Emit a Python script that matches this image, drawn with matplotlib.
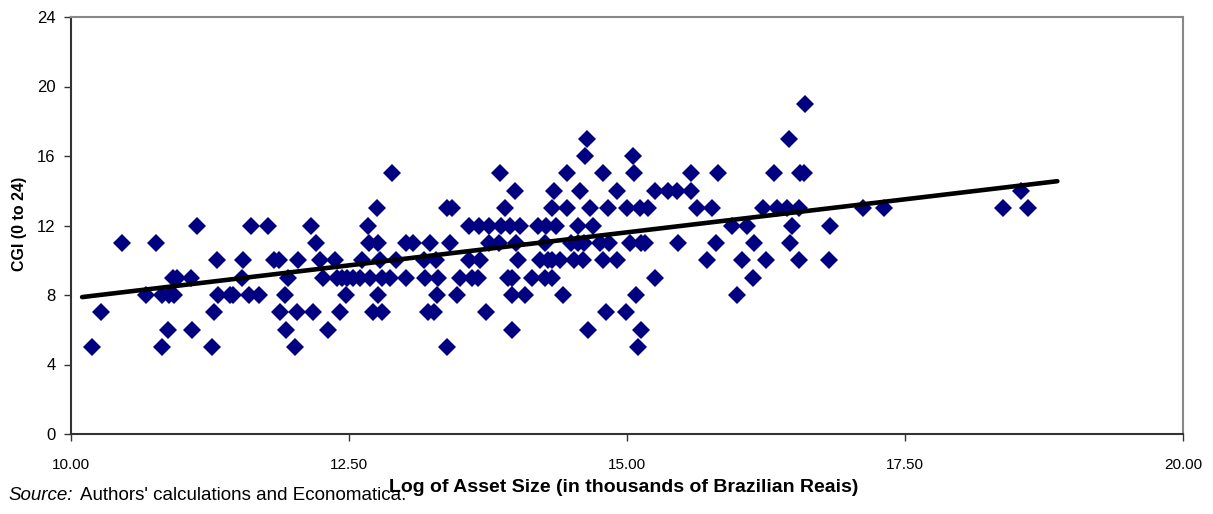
import matplotlib
matplotlib.use("Agg")
import matplotlib.pyplot as plt

# CGI score levels and the log asset sizes for each level
cgi_levels = [19, 17, 16, 15, 14, 13, 12, 11, 10, 9, 8, 7, 6, 5]

size_19 = [16.60]
size_17 = [14.64, 16.46]
size_16 = [14.62, 15.05]
size_15 = [12.89, 13.86, 14.46, 14.78, 15.06, 15.58, 15.82, 16.32, 16.56, 16.59]
size_14 = [13.99, 14.34, 14.58, 14.91, 15.25, 15.37, 15.45, 15.58, 18.54]
size_13 = [12.75, 13.38, 13.43, 13.90, 14.33, 14.46, 14.67, 14.83, 15.00, 15.12,
           15.19, 15.63, 15.76, 16.22, 16.35, 16.44, 16.55, 17.12, 17.31, 18.38, 18.61]
size_12 = [11.13, 11.62, 11.77, 12.16, 12.67, 13.58, 13.67, 13.76, 13.87, 13.95,
           14.04, 14.20, 14.27, 14.36, 14.56, 14.69, 15.94, 16.08, 16.48, 16.83]
size_11 = [10.46, 10.76, 12.20, 12.68, 12.76, 13.01, 13.08, 13.23, 13.41, 13.76,
           13.85, 14.00, 14.26, 14.50, 14.56, 14.61, 14.76, 14.84, 15.03, 15.13,
           15.16, 15.46, 15.80, 16.14, 16.47]
size_10 = [11.31, 11.55, 11.83, 11.87, 12.04, 12.24, 12.37, 12.62, 12.78, 12.92,
           13.17, 13.28, 13.58, 13.68, 14.02, 14.22, 14.29, 14.33, 14.40, 14.52,
           14.60, 14.78, 14.91, 15.72, 16.03, 16.25, 16.55, 16.82]
size_9 = [10.92, 10.95, 11.08, 11.54, 11.95, 12.27, 12.39, 12.44, 12.48, 12.54,
          12.60, 12.69, 12.80, 12.87, 13.01, 13.18, 13.30, 13.50, 13.61, 13.66,
          13.93, 13.97, 14.15, 14.26, 14.33, 15.25, 16.13]
size_8 = [10.67, 10.82, 10.88, 10.93, 11.32, 11.43, 11.46, 11.60, 11.69, 11.92,
          12.47, 12.76, 13.29, 13.47, 13.97, 14.08, 14.42, 15.08, 15.99]
size_7 = [10.27, 11.29, 11.88, 12.03, 12.18, 12.42, 12.72, 12.80, 13.21, 13.26,
          13.73, 14.81, 14.99]
size_6 = [10.87, 11.09, 11.93, 12.31, 13.97, 14.65, 15.13]
size_5 = [10.19, 10.82, 11.27, 12.01, 13.38, 15.10]

sizes_by_level = [size_19, size_17, size_16, size_15, size_14, size_13, size_12,
                  size_11, size_10, size_9, size_8, size_7, size_6, size_5]

# linear trend line, end points
trend_x = [10.10, 18.87]
trend_y = [7.88, 14.55]

x_ticks = [10.0, 12.5, 15.0, 17.5, 20.0]
y_ticks = [0, 4, 8, 12, 16, 20, 24]

xs = []
ys = []
for level, sizes in zip(cgi_levels, sizes_by_level):
    for s in sizes:
        xs.append(s)
        ys.append(level)

plt.rcParams['font.family'] = ['Liberation Sans', 'DejaVu Sans']

W, H = 1213, 514
fig = plt.figure(figsize=(W / 100, H / 100), dpi=100)
ax = fig.add_axes([71 / W, 1 - 434 / H, (1183 - 71) / W, (434 - 17) / H])

ax.plot(xs, ys, linestyle='none', marker='D', markersize=9,
        color='#000080', markeredgewidth=0, zorder=2)
ax.plot(trend_x, trend_y, color='black', linewidth=3.3,
        solid_capstyle='round', zorder=3)

ax.set_xlim(10, 20)
ax.set_ylim(0, 24)
ax.set_xticks(x_ticks)
ax.set_xticklabels(['%.2f' % t for t in x_ticks], fontsize=11)
ax.set_yticks(y_ticks)
ax.set_yticklabels([str(t) for t in y_ticks], fontsize=12)
ax.tick_params(axis='both', direction='out', length=5, width=1, color='#333333')
ax.tick_params(axis='x', pad=12)
ax.tick_params(axis='y', pad=6)

for side in ['left', 'bottom']:
    ax.spines[side].set_color('#333333')
    ax.spines[side].set_linewidth(1.5)
for side in ['top', 'right']:
    ax.spines[side].set_color('#888888')
    ax.spines[side].set_linewidth(1.5)

fig.text(20 / W, 1 - 224 / H, 'CGI (0 to 24)', rotation=90, ha='center', va='center',
         fontsize=11.5, fontweight='bold')
fig.text(624 / W, 1 - 488 / H, 'Log of Asset Size (in thousands of Brazilian Reais)',
         ha='center', va='center', fontsize=14, fontweight='bold')

src = fig.text(8 / W, 1 - 496 / H, 'Source:', ha='left', va='center',
               fontsize=13.5, style='italic')
renderer = fig.canvas.get_renderer()
bb = src.get_window_extent(renderer=renderer)
fig.text((bb.x1 + 8) / W, 1 - 496 / H, "Authors' calculations and Economatica.",
         ha='left', va='center', fontsize=13.5)

fig.savefig('out.png', dpi=100)
